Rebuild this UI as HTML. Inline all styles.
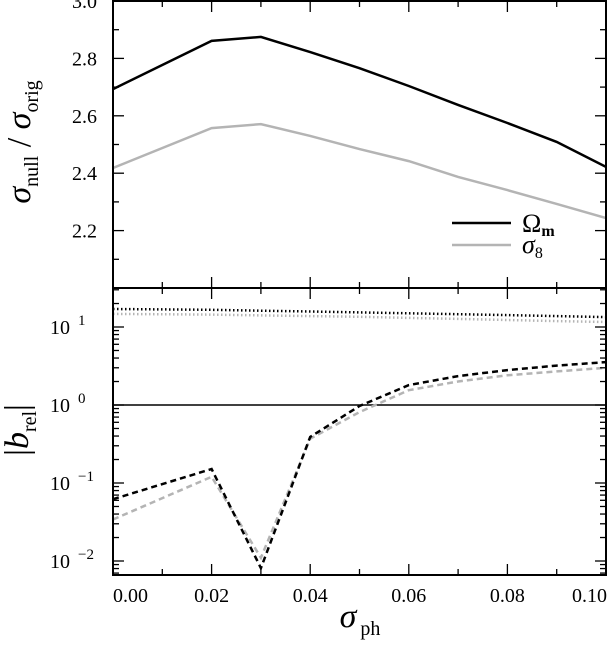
<!DOCTYPE html>
<html><head><meta charset="utf-8"><style>
html,body{margin:0;padding:0;background:#fff;}
svg{display:block;font-family:"Liberation Serif",serif;}
</style></head><body>
<svg id="chart" width="608" height="647" viewBox="0 0 608 647">
<g id="topPanel"></g>
<g id="botPanel"></g>
<g id="axes"></g>
<text x="30" y="142" font-size="34" font-style="italic" text-anchor="middle" transform="rotate(-90 30 142)">σ<tspan font-size="20" font-style="normal" dy="8">null</tspan><tspan dy="-8" font-style="normal"> / </tspan>σ<tspan font-size="20" font-style="normal" dy="8">orig</tspan></text>
<text x="28" y="430" font-size="34" text-anchor="middle" transform="rotate(-90 28 430)">|<tspan font-style="italic">b</tspan><tspan font-size="20" dy="8">rel</tspan><tspan dy="-8">|</tspan></text>
<text x="360" y="627" font-size="34" font-style="italic" text-anchor="middle">σ<tspan font-size="20" font-style="normal" dx="4" dy="8">ph</tspan></text>
<g>
<line x1="452" y1="223" x2="511" y2="223" stroke="#000" stroke-width="2.5"/>
<text x="522" y="232" font-size="26">Ω<tspan font-size="16" font-weight="bold" dy="4">m</tspan></text>
<line x1="452" y1="245" x2="511" y2="245" stroke="#b4b4b4" stroke-width="2.5"/>
<text x="522" y="253" font-size="26" font-style="italic">σ<tspan font-size="16" font-style="normal" dy="5">8</tspan></text>
</g>
</svg>
<script>
const xs = [0, 0.02, 0.03, 0.04, 0.05, 0.06, 0.07, 0.08, 0.09, 0.10];
const ratioOmega = [2.693, 2.861, 2.875, 2.822, 2.766, 2.704, 2.638, 2.575, 2.509, 2.422];
const ratioSigma8 = [2.418, 2.557, 2.571, 2.530, 2.484, 2.442, 2.387, 2.341, 2.293, 2.244];
const biasOmega = [0.062, 0.151, 0.0081, 0.39, 0.97, 1.8, 2.35, 2.8, 3.2, 3.55];
const biasSigma8 = [0.034, 0.12, 0.011, 0.37, 0.81, 1.55, 2.0, 2.4, 2.7, 3.0];
const biasOmegaDot = [17, 16.6, 16.2, 15.8, 15.4, 15.0, 14.6, 14.2, 13.8, 13.4];
const biasSigma8Dot = [14.7, 14.4, 14.1, 13.8, 13.5, 13.1, 12.7, 12.3, 11.9, 11.6];
const xTicks = [0, 0.02, 0.04, 0.06, 0.08, 0.10];
const xTickLabels = ["0.00", "0.02", "0.04", "0.06", "0.08", "0.10"];
const topTicks = [2.2, 2.4, 2.6, 2.8, 3.0];
const topTickLabels = ["2.2", "2.4", "2.6", "2.8", "3.0"];
const botDecades = [-2, -1, 0, 1];

const NS = "http://www.w3.org/2000/svg";
const L = 113, R = 606, TT = 1, TB = 288, BT = 288, BB = 575;
const X = v => L + (v - 0) / 0.1 * (R - L);
const YT = v => TB - (v - 2.0) / 1.0 * (TB - TT);
const DEC = 78, Y0 = 405;
const YB = v => Y0 - Math.log10(v) * DEC;
function mk(tag, attrs, parent) { const e = document.createElementNS(NS, tag); for (const k in attrs) e.setAttribute(k, attrs[k]); parent.appendChild(e); return e; }
const topG = document.getElementById('topPanel'), botG = document.getElementById('botPanel'), ax = document.getElementById('axes');

function series(parent, ys, yf, color, dash, name) {
  const pts = xs.map((x, i) => X(x).toFixed(1) + ',' + yf(ys[i]).toFixed(1)).join(' ');
  const p = mk('polyline', { points: pts, fill: 'none', stroke: color, 'stroke-width': 2.5 }, parent);
  if (dash) p.setAttribute('stroke-dasharray', dash);
  
  
}
const defs = mk('defs', {}, document.getElementById('chart'));
const cp1 = mk('clipPath', { id: 'c1' }, defs); mk('rect', { x: L, y: TT, width: R - L, height: TB - TT }, cp1);
const cp2 = mk('clipPath', { id: 'c2' }, defs); mk('rect', { x: L, y: BT, width: R - L, height: BB - BT }, cp2);
topG.setAttribute('clip-path', 'url(#c1)'); botG.setAttribute('clip-path', 'url(#c2)');

series(topG, ratioSigma8, YT, '#b4b4b4', null, 'line-sigma8-ratio');
series(topG, ratioOmega, YT, '#000', null, 'line-omega-m-ratio');
const ref = mk('line', { x1: L, x2: R, y1: YB(1), y2: YB(1), stroke: '#000', 'stroke-width': 1.5 }, botG);


series(botG, biasSigma8Dot, YB, '#b4b4b4', '1.5,2.5', 'line-sigma8-bias-dotted');
series(botG, biasOmegaDot, YB, '#000', '1.5,2.5', 'line-omega-m-bias-dotted');
series(botG, biasSigma8, YB, '#b4b4b4', '6,4', 'line-sigma8-bias-dashed');
series(botG, biasOmega, YB, '#000', '6,4', 'line-omega-m-bias-dashed');

mk('rect', { x: L, y: TT, width: R - L, height: BB - TT, fill: 'none', stroke: '#000', 'stroke-width': 2 }, ax);
mk('line', { x1: L, x2: R, y1: TB, y2: TB, stroke: '#000', 'stroke-width': 2 }, ax);
function tick(x1, y1, x2, y2) { mk('line', { x1, y1, x2, y2, stroke: '#000', 'stroke-width': 1.3 }, ax); }
for (let i = 0; i <= 10; i++) {
  const x = X(i * 0.01), len = i % 2 === 0 ? 11 : 6;
  tick(x, TT, x, TT + len); tick(x, TB - len, x, TB + len); tick(x, BB, x, BB - len);
}
xTicks.forEach((v, i) => {
  let anchor = 'middle', x = X(v);
  if (i === 0) { anchor = 'start'; x = L; }
  if (i === xTicks.length - 1) { anchor = 'end'; x = R + 1; }
  const t = mk('text', { x, y: 602, 'font-size': 20, 'text-anchor': anchor }, ax);
  t.textContent = xTickLabels[i];
  
  
});
for (let k = 1; k < 10; k++) {
  const v = 2 + k / 10;
  const y = YT(v), len = k % 2 === 0 ? 11 : 6;
  tick(L, y, L + len, y); tick(R, y, R - len, y);
}
topTicks.forEach((v, i) => {
  const t = mk('text', { x: 97, y: YT(v) + 7, 'font-size': 20, 'text-anchor': 'end' }, ax);
  t.textContent = topTickLabels[i];
  
  
});
for (let d = -3; d <= 1; d++) {
  for (let m = 1; m <= 9; m++) {
    const y = YB(m * Math.pow(10, d));
    if (y < BT || y > BB) continue;
    const len = m === 1 ? 11 : 6;
    tick(L, y, L + len, y); tick(R, y, R - len, y);
  }
}
botDecades.forEach(d => {
  const t = mk('text', { x: 50, y: YB(Math.pow(10, d)) + 7, 'font-size': 20 }, ax);
  t.textContent = '10';
  const s = mk('tspan', { 'font-size': 15, dx: 8, dy: -9 }, t);
  s.textContent = d < 0 ? '\u2212' + (-d) : String(d);
  
  
});
</script>
</body></html>
